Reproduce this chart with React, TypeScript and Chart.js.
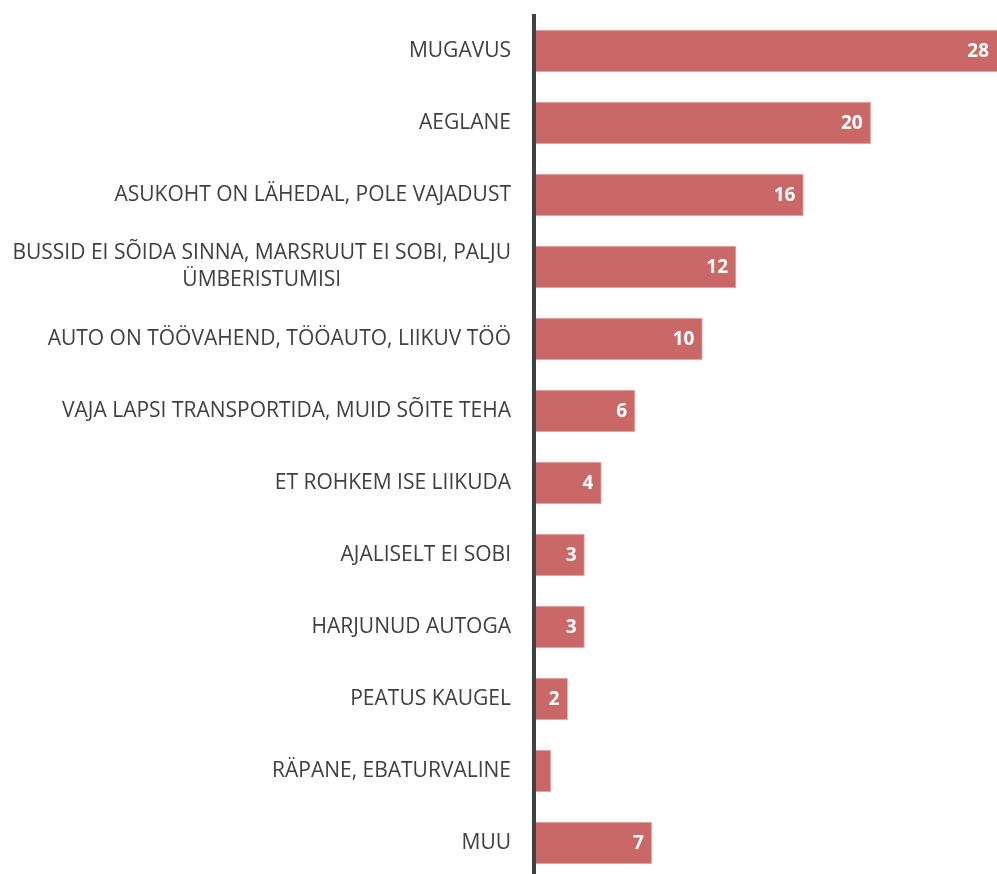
import React, { useEffect, useRef } from "react";
import { Chart, registerables } from "chart.js";

Chart.register(...registerables);

const categories: string[][] = [
  ["MUGAVUS"],
  ["AEGLANE"],
  ["ASUKOHT ON LÄHEDAL, POLE VAJADUST"],
  ["BUSSID EI SÕIDA SINNA, MARSRUUT EI SOBI, PALJU", "ÜMBERISTUMISI"],
  ["AUTO ON TÖÖVAHEND, TÖÖAUTO, LIIKUV TÖÖ"],
  ["VAJA LAPSI TRANSPORTIDA, MUID SÕITE TEHA"],
  ["ET ROHKEM ISE LIIKUDA"],
  ["AJALISELT EI SOBI"],
  ["HARJUNUD AUTOGA"],
  ["PEATUS KAUGEL"],
  ["RÄPANE, EBATURVALINE"],
  ["MUU"],
];

const values: number[] = [28, 20, 16, 12, 10, 6, 4, 3, 3, 2, 1, 7];
const valueLabels: string[] = ["28", "20", "16", "12", "10", "6", "4", "3", "3", "2", "", "7"];

const BAR_COLOR = "#C96866";
const TEXT_COLOR = "#404040";
const LABEL_FONT = "'Open Sans', sans-serif";

export default function App() {
  const canvasRef = useRef<HTMLCanvasElement | null>(null);

  useEffect(() => {
    const canvas = canvasRef.current;
    if (!canvas) return;

    const customPlugin = {
      id: "customDraw",
      afterDatasetsDraw(chart: any) {
        const { ctx, chartArea } = chart;
        const xScale = chart.scales.x;
        const yScale = chart.scales.y;
        ctx.save();
        // value labels
        ctx.fillStyle = "#FFFFFF";
        ctx.font = `bold 19px ${LABEL_FONT}`;
        ctx.textAlign = "right";
        ctx.textBaseline = "middle";
        values.forEach((v, i) => {
          const lbl = valueLabels[i];
          if (!lbl) return;
          const xEnd = Math.min(xScale.getPixelForValue(v), chartArea.right);
          const y = yScale.getPixelForValue(i);
          ctx.fillText(lbl, xEnd - 8, y + 1);
        });
        // category labels
        ctx.fillStyle = TEXT_COLOR;
        ctx.font = `21px ${LABEL_FONT}`;
        ctx.textAlign = "center";
        const rightEdge = chartArea.left - 23;
        const lineH = 27;
        categories.forEach((lines, i) => {
          const y = yScale.getPixelForValue(i);
          const w = Math.max(...lines.map((l) => ctx.measureText(l).width));
          const cx = rightEdge - w / 2;
          const y0 = y - ((lines.length - 1) * lineH) / 2;
          lines.forEach((l, j) => ctx.fillText(l, cx, y0 + j * lineH));
        });
        // axis line
        ctx.strokeStyle = TEXT_COLOR;
        ctx.lineWidth = 4;
        ctx.beginPath();
        ctx.moveTo(chartArea.left, chartArea.top - 1);
        ctx.lineTo(chartArea.left, chart.height);
        ctx.stroke();
        ctx.restore();
      },
    };

    const chart = new Chart(canvas, {
      type: "bar",
      data: {
        labels: categories.map((c) => c.join(" ")),
        datasets: [
          {
            data: values,
            backgroundColor: BAR_COLOR,
            borderColor: "#EBB3B2",
            borderWidth: 1,
            barThickness: 42,
          },
        ],
      },
      options: {
        indexAxis: "y",
        animation: false,
        responsive: false,
        maintainAspectRatio: false,
        devicePixelRatio: 1,
        layout: { padding: { left: 534, top: 15, right: 0, bottom: 0 } },
        plugins: { legend: { display: false }, tooltip: { enabled: false } },
        scales: {
          x: { display: false, min: 0, max: 27.5 },
          y: { display: false },
        },
      },
      plugins: [customPlugin],
    });

    return () => chart.destroy();
  }, []);

  return (
    <div
      style={{
        position: "fixed",
        left: 0,
        top: 0,
        width: 997,
        height: 874,
        overflow: "hidden",
        background: "#FFFFFF",
      }}
    >
      <canvas ref={canvasRef} width={997} height={879} style={{ width: 997, height: 879, display: "block" }} />
    </div>
  );
}
